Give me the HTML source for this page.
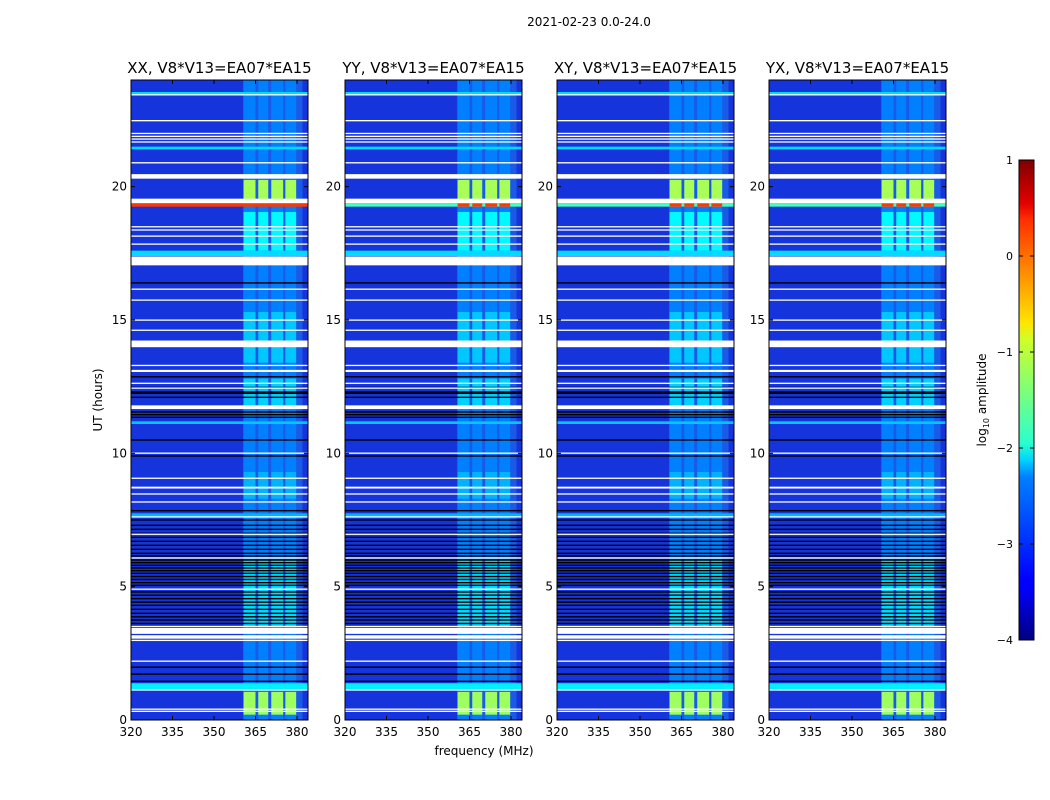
<!DOCTYPE html>
<html><head><meta charset="utf-8"><style>
body{margin:0;background:#fff;}
svg{display:block;font-family:"DejaVu Sans","Liberation Sans",sans-serif;}
</style></head><body>
<svg id="fig" width="1050" height="800" xmlns="http://www.w3.org/2000/svg">
<defs>
<linearGradient id="jet" x1="0" y1="1" x2="0" y2="0">
<stop offset="0" stop-color="#00007f"/><stop offset="0.11" stop-color="#0000ff"/>
<stop offset="0.125" stop-color="#0000ff"/><stop offset="0.34" stop-color="#0080ff"/>
<stop offset="0.375" stop-color="#00d4ff"/><stop offset="0.41" stop-color="#29ffce"/>
<stop offset="0.625" stop-color="#ceff29"/><stop offset="0.66" stop-color="#ffe600"/>
<stop offset="0.875" stop-color="#ff3000"/><stop offset="0.91" stop-color="#e30000"/>
<stop offset="1" stop-color="#7f0000"/></linearGradient>
</defs>
<text x="589" y="26" font-size="12" text-anchor="middle">2021-02-23 0.0-24.0</text>
<g id="panels"></g>
<text x="484" y="755" font-size="12" text-anchor="middle">frequency (MHz)</text>
<text transform="translate(102,400) rotate(-90)" font-size="12" text-anchor="middle">UT (hours)</text>
<g>
<rect x="1019" y="160" width="15" height="480" fill="url(#jet)" stroke="#000" stroke-width="1"/>
<g id="cbticks"></g>
<text transform="translate(986,400) rotate(-90)" font-size="12" text-anchor="middle">log<tspan font-size="8" dy="3">10</tspan><tspan dy="-3"> amplitude</tspan></text>
</g>
</svg>
<script>
const panelTitles=["XX, V8*V13=EA07*EA15","YY, V8*V13=EA07*EA15","XY, V8*V13=EA07*EA15","YX, V8*V13=EA07*EA15"];
const xTicks=[320,335,350,365,380];
const yTicks=[0,5,10,15,20];
const cbTicks=[1,0,-1,-2,-3,-4];
const bandLevel=-2.75;
// band sub-columns [startMHz,endMHz]
const bandCols=[[360.7,365],[366,369.6],[370.7,375],[375.8,379.7]];
// bright band episodes [startHour,endHour,level]
const bandBright=[[19.5,20.25,-1.3],[17.6,19.05,-2.15],[0.2,1.05,-1.35],[3.5,6.0,-2.3],[11.8,12.8,-2.35],[13.4,15.3,-2.4],[8.3,9.3,-2.5]];
// full-width coloured rows [startHour,endHour,level]
const colorRows=[[23.45,23.55,-2.3],[21.4,21.5,-2.3],[17.4,17.6,-2.3],[11.1,11.2,-2.4],[7.62,7.75,-2.5],[1.15,1.38,-2.2]];
const hotRow=[19.25,19.38,0.1];
// white flagged rows [startHour,endHour]
const whiteRows=[[23.42,23.47],[22.45,22.5],[21.98,22.02],[21.87,21.91],[21.77,21.81],[21.66,21.7],[20.87,20.92],[20.3,20.47],[19.38,19.55],[18.48,18.52],[18.36,18.4],[18.13,18.17],[17.83,17.87],[17.05,17.38],[16.14,16.18],[15.73,15.77],[14.98,15.02],[14.6,14.64],[13.98,14.23],[13.28,13.32],[13.05,13.13],[12.61,12.65],[12.43,12.47],[11.66,11.8],[10.0,10.03],[9.06,9.09],[8.68,8.75],[8.47,8.5],[8.17,8.2],[7.6,7.64],[6.96,6.99],[6.07,6.1],[4.9,4.93],[3.5,3.53],[3.23,3.45],[3.05,3.18],[2.98,3.01],[2.2,2.23],[1.1,1.15],[0.4,0.43],[0.32,0.35]];
// black rows [hour]
const blackRows=[16.39,14.05,12.87,12.47,12.3,12.25,12.1,11.55,11.45,11.35,10.5,9.9,7.85,7.5,7.3,7.15,7.0,6.85,6.7,6.55,6.4,6.25,6.15,6.0,5.9,5.8,5.7,5.6,5.5,5.38,5.27,5.15,5.05,4.8,4.68,4.55,4.42,4.3,4.15,4.0,3.87,3.75,3.62,1.98,1.72,1.45];

const svg=document.getElementById('fig');
const NS='http://www.w3.org/2000/svg';
const panelLeft=[131,345,557,769];
const PW=177,PT=80,PB=720;
function jet(v){const t=Math.max(0,Math.min(1,(v+4)/5));
 const c=x=>Math.round(255*Math.max(0,Math.min(1,1.5-Math.abs(4*t-x))));
 return `rgb(${c(3)},${c(2)},${c(1)})`;}
function mk(tag,attrs,parent){const e=document.createElementNS(NS,tag);for(const k in attrs)e.setAttribute(k,attrs[k]);parent.appendChild(e);return e;}
const yS=h=>PB-(h/24)*(PB-PT);
const panels=document.getElementById('panels');
panelTitles.forEach((title,pi)=>{
 const L=panelLeft[pi];
 const xS=f=>L+(f-320)*(41.5/15);
 const g=mk('g',{},panels);
 
 
 const bg=mk('rect',{x:L,y:PT,width:PW,height:PB-PT,fill:'#1634dc'},g);
 
 
 const band=mk('rect',{x:xS(360.5),y:PT,width:xS(382)-xS(360.5),height:PB-PT,fill:'#1a5ae6'},g);
 
 
 bandCols.forEach(c=>{const r=mk('rect',{x:xS(c[0]),y:PT,width:xS(c[1])-xS(c[0]),height:PB-PT,fill:jet(bandLevel)},g);
  
  });
 bandBright.forEach(b=>bandCols.forEach(c=>{const r=mk('rect',{x:xS(c[0]),y:yS(b[1]),width:xS(c[1])-xS(c[0]),height:yS(b[0])-yS(b[1]),fill:jet(b[2])},g);
  
  }));
 colorRows.forEach(b=>{const r=mk('rect',{x:L,y:yS(b[1]),width:PW,height:yS(b[0])-yS(b[1]),fill:jet(b[2])},g);
  
  });
 const hr=mk('rect',{x:L,y:yS(hotRow[1]),width:PW,height:yS(hotRow[0])-yS(hotRow[1]),fill:jet(pi==0?hotRow[2]:hotRow[2]-1.9)},g);
 
 
 if(pi>0){bandCols.forEach(c=>{const r=mk('rect',{x:xS(c[0]),y:yS(hotRow[1]),width:xS(c[1])-xS(c[0]),height:yS(hotRow[0])-yS(hotRow[1]),fill:jet(hotRow[2])},g);
  
  });}
 blackRows.forEach(h=>{const r=mk('rect',{x:L,y:yS(h)-0.7,width:PW,height:1.4,fill:'#000'},g);
  
  });
 whiteRows.forEach(w=>{const r=mk('rect',{x:L,y:yS(w[1]),width:PW,height:Math.max(1.3,yS(w[0])-yS(w[1])),fill:'#fff'},g);
  
  });
 mk('rect',{x:L,y:PT,width:PW,height:PB-PT,fill:'none',stroke:'#000','stroke-width':1},g);
 const t=mk('text',{x:L+PW/2,y:PT-7,'font-size':15,'text-anchor':'middle'},g);t.textContent=title;
 
 
 xTicks.forEach(v=>{const x=xS(v);
  mk('line',{x1:x,x2:x,y1:PB,y2:PB-4,stroke:'#000'},g);mk('line',{x1:x,x2:x,y1:PT,y2:PT+4,stroke:'#000'},g);
  const l=mk('text',{x:x,y:PB+16,'font-size':12,'text-anchor':'middle'},g);l.textContent=v;
  
  });
 yTicks.forEach(v=>{const y=yS(v);
  mk('line',{x1:L,x2:L+4,y1:y,y2:y,stroke:'#000'},g);mk('line',{x1:L+PW,x2:L+PW-4,y1:y,y2:y,stroke:'#000'},g);
  const l=mk('text',{x:L-4,y:y+4,'font-size':12,'text-anchor':'end'},g);l.textContent=v;
  
  });
});
const cbg=document.getElementById('cbticks');
cbTicks.forEach(v=>{const y=160+(1-v)*96;
 mk('line',{x1:1019,x2:1023,y1:y,y2:y,stroke:'#000'},cbg);mk('line',{x1:1034,x2:1030,y1:y,y2:y,stroke:'#000'},cbg);
 const l=mk('text',{x:1013,y:y+4,'font-size':11,'text-anchor':'end'},cbg);l.textContent=(v<0?'\u2212'+(-v):v);
 
 });
</script>
</body></html>
